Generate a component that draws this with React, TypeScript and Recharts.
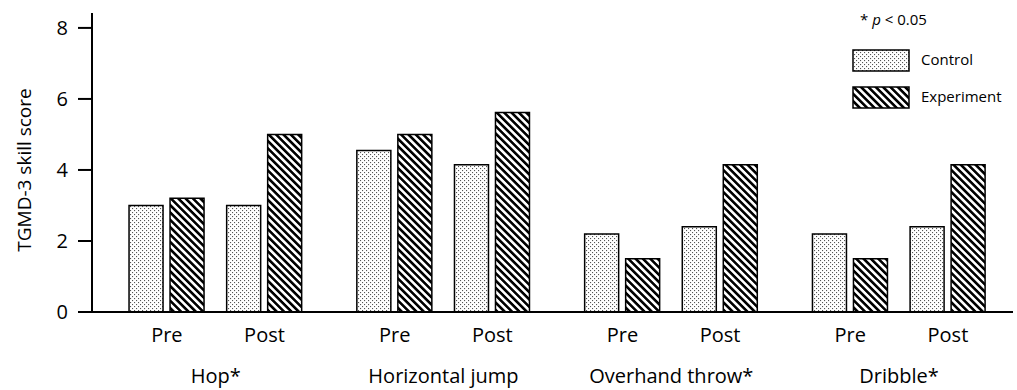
import React from 'react';
import { BarChart, Bar, XAxis, YAxis } from 'recharts';

const groups = ['Hop*', 'Horizontal jump', 'Overhand throw*', 'Dribble*'];
const phases = ['Pre', 'Post'];
// per group: Pre, Post
const control = [3.0, 3.0, 4.55, 4.15, 2.2, 2.4, 2.2, 2.4];
const experiment = [3.2, 5.0, 5.0, 5.62, 1.5, 4.15, 1.5, 4.15];
const yTicks = [0, 2, 4, 6, 8];

// slot layout on the x scale: pre/post 3 units apart, groups 7 units apart
const data = control.map((c, i) => {
  const g = Math.floor(i / 2);
  const p = i % 2;
  return { pos: g * 7 + p * 3, phase: phases[p], control: c, experiment: experiment[i] };
});
const phaseTicks = data.map((d) => d.pos);
const groupTicks = groups.map((_, g) => g * 7 + 1.5);
const xDomain = [-2.3, 26];

const FONT = '"Open Sans", sans-serif';

const Patterns = ({ prefix }: { prefix: string }) => (
  <defs>
    <pattern id={prefix + 'dots'} patternUnits="userSpaceOnUse" width={4} height={4}>
      <rect width={4} height={4} fill="#fff" />
      <rect x={0} y={0} width={1.1} height={1.1} fill="#555" />
      <rect x={2} y={2} width={1.1} height={1.1} fill="#555" />
    </pattern>
    <pattern id={prefix + 'stripes'} patternUnits="userSpaceOnUse" width={5.2} height={5.2} patternTransform="rotate(-45)">
      <rect width={5.2} height={5.2} fill="#fff" />
      <rect x={0} y={0} width={2.6} height={5.2} fill="#000" />
    </pattern>
  </defs>
);

const LegendBox = () => (
  <div style={{ position: 'absolute', left: 0, top: 0, width: 1017, height: 390, pointerEvents: 'none' }}>
    <svg width={1017} height={390} style={{ position: 'absolute', left: 0, top: 0, fontFamily: FONT }}>
      <Patterns prefix="lg-" />
      <text x={860} y={25} fontSize={15} fill="#000">
        * <tspan fontStyle="italic">p</tspan> &lt; 0.05
      </text>
      <rect x={853} y={50} width={56} height={21} fill="url(#lg-dots)" stroke="#000" strokeWidth={1.5} />
      <text x={921} y={65} fontSize={15} fill="#000">Control</text>
      <rect x={853} y={87} width={56} height={21} fill="url(#lg-stripes)" stroke="#000" strokeWidth={1.5} />
      <text x={921} y={102} fontSize={15} fill="#000">Experiment</text>
    </svg>
  </div>
);

export default function App() {
  return (
    <div style={{ position: 'relative', width: 1017, height: 390, fontFamily: FONT, background: '#fff' }}>
      <style>{'body{margin:0}'}</style>
      <BarChart
        width={1017}
        height={390}
        data={data}
        margin={{ top: 13, right: 4, left: 0, bottom: 0 }}
        barGap={7}
        barSize={34}
      >
        <Patterns prefix="ch-" />
        <XAxis
          xAxisId="b2"
          dataKey="pos"
          type="number"
          domain={xDomain}
          ticks={groupTicks}
          interval={0}
          allowDataOverflow
          height={38}
          tickLine={false}
          axisLine={false}
          tickSize={0}
          tickMargin={17}
          tick={{ fill: '#000', fontSize: 20 }}
          tickFormatter={(v: number) => groups[Math.round((v - 1.5) / 7)]}
        />
        <XAxis
          xAxisId="a1"
          dataKey="pos"
          type="number"
          domain={xDomain}
          ticks={phaseTicks}
          interval={0}
          allowDataOverflow
          height={40}
          tickLine={false}
          tickSize={0}
          tickMargin={16}
          axisLine={{ stroke: '#000', strokeWidth: 2 }}
          tick={{ fill: '#000', fontSize: 20 }}
          tickFormatter={(v: number) => phases[Math.max(0, data.findIndex((d) => d.pos === v)) % 2]}
        />
        <YAxis
          domain={[0, 8.42]}
          ticks={yTicks}
          allowDataOverflow
          width={92}
          tickSize={14}
          tickMargin={10}
          axisLine={{ stroke: '#000', strokeWidth: 2 }}
          tickLine={{ stroke: '#000', strokeWidth: 2 }}
          tick={{ fill: '#000', fontSize: 20 }}
          label={{
            content: () => (
              <text x={24} y={170} transform="rotate(-90, 24, 170)" textAnchor="middle" dominantBaseline="central" fontSize={19} fill="#000">
                TGMD-3 skill score
              </text>
            ),
          }}
        />
        <Bar xAxisId="a1" dataKey="control" name="Control" fill="url(#ch-dots)" stroke="#000" strokeWidth={1.5} isAnimationActive={false} />
        <Bar xAxisId="a1" dataKey="experiment" name="Experiment" fill="url(#ch-stripes)" stroke="#000" strokeWidth={1.5} isAnimationActive={false} />
      </BarChart>
      <LegendBox />
    </div>
  );
}
